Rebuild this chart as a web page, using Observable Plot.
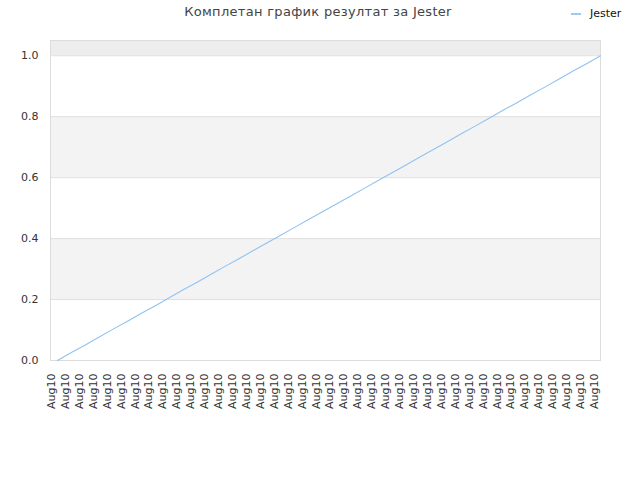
<!DOCTYPE html>
<html>
<head>
<meta charset="utf-8">
<script src="https://cdn.jsdelivr.net/npm/d3@7"></script>
<script src="https://cdn.jsdelivr.net/npm/@observablehq/plot@0.6"></script>
<style>
  body { margin: 0; background: #fff; font-family: "DejaVu Sans", sans-serif; }
  #wrap { position: relative; width: 640px; height: 480px; }
  #title { position: absolute; left: 0; width: 636px; top: 4px; text-align: center; font-size: 13px; color: #444; letter-spacing: 0.3px; z-index: 2; }
  #legend { position: absolute; left: 571px; top: 7px; font-size: 11px; color: #111; display: flex; align-items: center; z-index: 2; }
  #legend span.sw { display: inline-block; width: 10px; height: 2px; background: #9ccaf4; margin-right: 9px; }
</style>
</head>
<body>
<div id="wrap">
  <div id="title">Комплетан график резултат за Jester</div>
  <div id="legend"><span class="sw"></span>Jester</div>
</div>
<script>
const seriesName = "Jester";
const xIndex = [0,1,2,3,4,5,6,7,8,9,10,11,12,13,14,15,16,17,18,19,20,21,22,23,24,25,26,27,28,29,30,31,32,33,34,35,36,37,38,39];
const xLabels = ["Aug10","Aug10","Aug10","Aug10","Aug10","Aug10","Aug10","Aug10","Aug10","Aug10",
                 "Aug10","Aug10","Aug10","Aug10","Aug10","Aug10","Aug10","Aug10","Aug10","Aug10",
                 "Aug10","Aug10","Aug10","Aug10","Aug10","Aug10","Aug10","Aug10","Aug10","Aug10",
                 "Aug10","Aug10","Aug10","Aug10","Aug10","Aug10","Aug10","Aug10","Aug10","Aug10"];
const values = [0.000,0.026,0.051,0.077,0.103,0.128,0.154,0.179,0.205,0.231,
                0.256,0.282,0.308,0.333,0.359,0.385,0.410,0.436,0.462,0.487,
                0.513,0.538,0.564,0.590,0.615,0.641,0.667,0.692,0.718,0.744,
                0.769,0.795,0.821,0.846,0.872,0.897,0.923,0.949,0.974,1.000];
const yTicks = [0, 0.2, 0.4, 0.6, 0.8, 1.0];
const bandLow = [0.2, 0.6, 1.0];
const bandHigh = [0.4, 0.8, 1.05];
const bandFill = ["#f3f3f3", "#f3f3f3", "#ededed"];

const data = xIndex.map((i) => ({i, label: xLabels[i], v: values[i]}));
const bands = bandLow.map((lo, k) => ({lo, hi: bandHigh[k], fill: bandFill[k]}));

const chart = Plot.plot({
  width: 640,
  height: 480,
  marginLeft: 50,
  marginRight: 40,
  marginTop: 40,
  marginBottom: 120,
  style: {fontFamily: "DejaVu Sans, sans-serif", fontSize: "11px", color: "#333", background: "transparent"},
  x: {type: "linear", domain: [-0.5, 39], label: null},
  y: {domain: [0, 1.05], label: null},
  marks: [
    Plot.rect(bands, {y1: "lo", y2: "hi", fill: "fill"}),
    Plot.ruleY(yTicks, {stroke: "#e0e0e0"}),
    Plot.frame({stroke: "#dcdcdc"}),
    Plot.line(data, {x: "i", y: "v", stroke: "#90c3f2", strokeWidth: 1.1}),
    Plot.axisY({ticks: yTicks, tickFormat: d3.format(".1f"), tickSize: 0, tickPadding: 12, fontSize: 11, fill: "#333", label: null}),
    Plot.axisX({ticks: xIndex, tickFormat: (d) => xLabels[d], tickSize: 0, tickPadding: 13, tickRotate: -90, dx: -6, fontSize: 11, fill: "#333", label: null})
  ]
});
document.getElementById("wrap").prepend(chart);
chart.style.position = "absolute";
chart.style.left = "0";
chart.style.top = "0";
</script>
</body>
</html>
